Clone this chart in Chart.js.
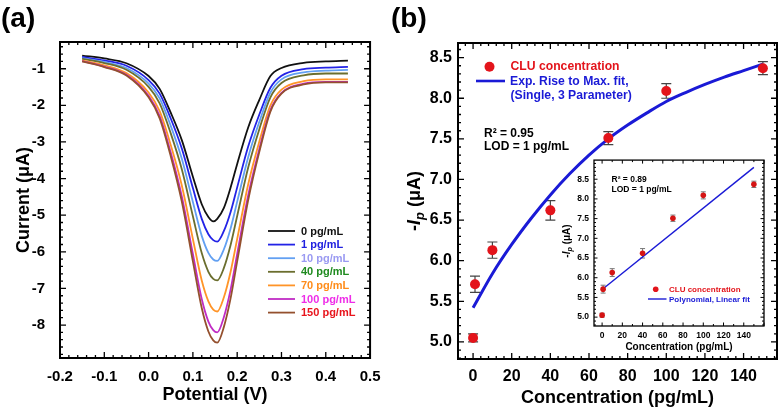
<!DOCTYPE html>
<html><head><meta charset="utf-8">
<script src="https://cdn.jsdelivr.net/npm/chart.js@4.4.1/dist/chart.umd.min.js"></script>
<style>
html,body{margin:0;padding:0;background:#fff;width:783px;height:420px;overflow:hidden;}
canvas{position:absolute;}
</style></head><body>
<canvas id="ca" style="left:0;top:0" width="390" height="420"></canvas>
<canvas id="cb" style="left:390px;top:0" width="393" height="420"></canvas>
<canvas id="ci" style="left:545px;top:150px" width="238" height="210"></canvas>
<script>
// ---------------- DATA ----------------
// Panel (a): DPV curves, current (uA) vs potential (V)
const potential = [-0.15,-0.1,-0.05,0,0.025,0.05,0.075,0.1,0.12,0.135,0.146,0.155,0.17,0.185,0.2,0.225,0.25,0.275,0.3,0.35,0.4,0.45];
const cur0   = [-0.64,-0.72,-0.85,-1.2,-1.55,-2.2,-2.95,-3.95,-4.7,-5.05,-5.17,-5.1,-4.8,-4.25,-3.6,-2.6,-1.85,-1.2,-0.98,-0.84,-0.8,-0.78];
const cur1   = [-0.68,-0.775,-0.92,-1.31,-1.68,-2.36,-3.18,-4.26,-5.10,-5.52,-5.68,-5.72,-5.43,-4.92,-4.24,-3.12,-2.25,-1.52,-1.19,-1.01,-0.97,-0.95];
const cur10  = [-0.71,-0.815,-0.98,-1.405,-1.81,-2.56,-3.46,-4.64,-5.565,-6.03,-6.21,-6.25,-5.93,-5.37,-4.63,-3.41,-2.45,-1.65,-1.29,-1.10,-1.05,-1.03];
const cur40  = [-0.73,-0.845,-1.03,-1.495,-1.945,-2.765,-3.745,-5.03,-6.035,-6.545,-6.74,-6.78,-6.44,-5.82,-5.02,-3.69,-2.65,-1.78,-1.39,-1.18,-1.13,-1.13];
const cur70  = [-0.77,-0.905,-1.12,-1.65,-2.16,-3.085,-4.19,-5.65,-6.785,-7.355,-7.58,-7.63,-7.24,-6.55,-5.65,-4.15,-2.99,-2.00,-1.57,-1.34,-1.29,-1.29];
const cur100 = [-0.79,-0.94,-1.165,-1.74,-2.29,-3.29,-4.49,-6.06,-7.29,-7.905,-8.14,-8.20,-7.78,-7.04,-6.06,-4.45,-3.19,-2.13,-1.66,-1.41,-1.36,-1.36];
const cur150 = [-0.80,-0.955,-1.185,-1.78,-2.355,-3.39,-4.63,-6.26,-7.535,-8.175,-8.42,-8.48,-8.05,-7.28,-6.26,-4.58,-3.27,-2.17,-1.68,-1.43,-1.37,-1.37];
const curveLabels = ['0 pg/mL','1 pg/mL','10 pg/mL','40 pg/mL','70 pg/mL','100 pg/mL','150 pg/mL'];
const potentialTicks = [-0.2,-0.1,0,0.1,0.2,0.3,0.4,0.5];
const currentTicks = [-8,-7,-6,-5,-4,-3,-2,-1];

// Panel (b): peak current vs concentration
const concentration = [0,1,10,40,70,100,150];
const peakCurrent = [5.05,5.71,6.13,6.62,7.51,8.09,8.37];
const peakError = [0.05,0.1,0.1,0.12,0.08,0.09,0.08];
const expFitX = [0,10,20,30,40,50,60,70,80,90,100,110,120,130,140,150];
const expFitY = [5.42,5.84,6.20,6.52,6.81,7.07,7.30,7.50,7.67,7.82,7.96,8.07,8.17,8.26,8.34,8.42];
const linFitX = [1,150];
const linFitY = [5.72,8.80];
const concTicks = [0,20,40,60,80,100,120,140];
const ipTicks = [5.0,5.5,6.0,6.5,7.0,7.5,8.0,8.5];

// ---------------- STYLE ----------------
const FAM = '"Liberation Sans", Arial, Helvetica, sans-serif';
const cf = (size, style) => (style ? style + ' ' : '') + 'bold ' + size + 'px ' + FAM;
const curveColors = ['#111111','#2323e6','#62a0f2','#6b6e2e','#ff9428','#c02cc4','#94502e'];
const legendTextColors = ['#111111','#2020e0','#9a9af2','#1f8a1f','#ff8c1a','#ee2ee8','#e8141c'];
const RED = '#e3141b', BLUE = '#1a1ad6';

// ---------------- PLUGINS ----------------
function marks(min, max, major, minor) {
  const out = [];
  const n0 = Math.ceil(min / minor - 1e-6), n1 = Math.floor(max / minor + 1e-6);
  for (let n = n0; n <= n1; n++) {
    const v = n * minor;
    const r = v / major;
    out.push({v, major: Math.abs(r - Math.round(r)) < 1e-6});
  }
  return out;
}
const framePlugin = {
  id: 'frame',
  beforeDraw(chart, args, o) {
    if (!o.bg) return;
    const a = chart.chartArea, ctx = chart.ctx;
    ctx.save(); ctx.fillStyle = o.bg;
    ctx.fillRect(a.left, a.top, a.right - a.left, a.bottom - a.top);
    ctx.restore();
  },
  afterDraw(chart, args, o) {
    const ctx = chart.ctx, a = chart.chartArea, xs = chart.scales.x, ys = chart.scales.y;
    ctx.save();
    ctx.strokeStyle = '#000';
    ctx.lineWidth = o.tickW;
    ctx.beginPath();
    marks(xs.min, xs.max, o.xMajor, o.xMinor).forEach(m => {
      const p = xs.getPixelForValue(m.v), L = m.major ? o.majLen : o.minLen;
      ctx.moveTo(p, a.bottom); ctx.lineTo(p, a.bottom - L);
      ctx.moveTo(p, a.top); ctx.lineTo(p, a.top + L);
    });
    marks(ys.min, ys.max, o.yMajor, o.yMinor).forEach(m => {
      const p = ys.getPixelForValue(m.v), L = m.major ? o.majLen : o.minLen;
      ctx.moveTo(a.left, p); ctx.lineTo(a.left + L, p);
      ctx.moveTo(a.right, p); ctx.lineTo(a.right - L, p);
    });
    ctx.stroke();
    ctx.lineWidth = o.lw;
    ctx.strokeRect(a.left, a.top, a.right - a.left, a.bottom - a.top);
    ctx.restore();
  }
};
const errPlugin = {
  id: 'errbars',
  beforeDatasetsDraw(chart, args, o) {
    if (!o.errors) return;
    const ctx = chart.ctx, xs = chart.scales.x, ys = chart.scales.y;
    const ds = chart.data.datasets[o.index];
    ctx.save(); ctx.strokeStyle = o.color; ctx.lineWidth = o.lw; ctx.beginPath();
    ds.data.forEach((pt, i) => {
      const e = o.errors[i];
      const px = xs.getPixelForValue(pt.x);
      const y1 = ys.getPixelForValue(pt.y + e), y2 = ys.getPixelForValue(pt.y - e);
      ctx.moveTo(px, y1); ctx.lineTo(px, y2);
      ctx.moveTo(px - o.cap, y1); ctx.lineTo(px + o.cap, y1);
      ctx.moveTo(px - o.cap, y2); ctx.lineTo(px + o.cap, y2);
    });
    ctx.stroke(); ctx.restore();
  }
};
function drawIp(ctx, cx, cy, size) {
  const parts = [
    ['-', cf(size), 0],
    ['I', cf(size, 'italic'), 0],
    ['p', cf(size * 0.72, 'italic'), size * 0.32],
    [' (\u03bcA)', cf(size), 0]
  ];
  let w = 0;
  parts.forEach(p => { ctx.font = p[1]; p.push(ctx.measureText(p[0]).width); w += p[3]; });
  ctx.save();
  ctx.translate(cx, cy); ctx.rotate(-Math.PI / 2);
  ctx.fillStyle = '#000'; ctx.textBaseline = 'middle'; ctx.textAlign = 'left';
  let x = -w / 2;
  parts.forEach(p => { ctx.font = p[1]; ctx.fillText(p[0], x, p[2]); x += p[3]; });
  ctx.restore();
}
const decoPlugin = {
  id: 'deco',
  afterDraw(chart, args, o) {
    const ctx = chart.ctx;
    (o.items || []).forEach(it => {
      ctx.save();
      if (it.kind === 'text') {
        ctx.font = it.font; ctx.fillStyle = it.color || '#000';
        ctx.textAlign = it.align || 'left'; ctx.textBaseline = it.baseline || 'middle';
        ctx.fillText(it.text, it.x, it.y);
      } else if (it.kind === 'line') {
        ctx.strokeStyle = it.color; ctx.lineWidth = it.width;
        ctx.beginPath(); ctx.moveTo(it.x1, it.y); ctx.lineTo(it.x2, it.y); ctx.stroke();
      } else if (it.kind === 'dot') {
        ctx.fillStyle = it.color; ctx.beginPath(); ctx.arc(it.x, it.y, it.r, 0, Math.PI * 2); ctx.fill();
      } else if (it.kind === 'ip') {
        drawIp(ctx, it.x, it.y, it.size);
      }
      ctx.restore();
    });
  }
};

function tickFont(size) { return {family: FAM, size: size, weight: 'bold'}; }
function fixedTicks(arr) { return s => { s.ticks = arr.map(v => ({value: v})); }; }
const noGrid = {display: false, drawTicks: false, tickLength: 0};
const baseOpts = {responsive: false, animation: false, devicePixelRatio: 1, events: []};

// ---------------- CHART (a) ----------------
const curves = [cur0, cur1, cur10, cur40, cur70, cur100, cur150];
const legendA = [];
curveLabels.forEach((lab, i) => {
  const y = 231 + i * 13.6;
  legendA.push({kind: 'line', x1: 268, x2: 295, y: y, color: curveColors[i], width: 1.8});
  legendA.push({kind: 'text', text: lab, x: 301, y: y + 0.5, font: cf(11), color: legendTextColors[i]});
});
legendA.push({kind: 'text', text: '(a)', x: 1, y: 27, baseline: 'alphabetic', font: cf(28), color: '#000'});

new Chart(document.getElementById('ca'), {
  type: 'line',
  data: {
    datasets: curves.map((c, i) => ({
      label: curveLabels[i],
      data: potential.map((p, j) => ({x: p, y: c[j]})),
      borderColor: curveColors[i], borderWidth: 1.8, pointRadius: 0,
      cubicInterpolationMode: 'monotone', fill: false
    })).reverse()
  },
  options: Object.assign({}, baseOpts, {
    layout: {padding: {top: 42, right: 13, left: 0, bottom: 0}},
    scales: {
      x: {type: 'linear', min: -0.2, max: 0.5,
        afterBuildTicks: fixedTicks(potentialTicks),
        afterFit: s => { s.height = 62; },
        grid: noGrid, border: {display: false},
        ticks: {font: tickFont(15), color: '#000', padding: 9.5, maxRotation: 0, autoSkip: false,
          callback: v => v.toFixed(1)},
        title: {display: true, text: 'Potential (V)', color: '#000',
          font: {family: FAM, size: 18, weight: 'bold'}, padding: {top: 0, bottom: 14}}
      },
      y: {type: 'linear', min: -8.9, max: -0.27,
        afterBuildTicks: fixedTicks(currentTicks),
        afterFit: s => { s.width = 60; },
        grid: noGrid, border: {display: false},
        ticks: {font: tickFont(15), color: '#000', padding: 15, autoSkip: false,
          callback: v => String(v)},
        title: {display: true, text: 'Current (\u03bcA)', color: '#000',
          font: {family: FAM, size: 18, weight: 'bold'}, padding: {top: 13, bottom: 0}}
      }
    },
    plugins: {
      legend: {display: false}, tooltip: {enabled: false},
      frame: {lw: 2, tickW: 1.3, majLen: 6, minLen: 3, xMajor: 0.1, xMinor: 0.02, yMajor: 1, yMinor: 0.2},
      deco: {items: legendA}
    }
  }),
  plugins: [framePlugin, decoPlugin]
});

// ---------------- CHART (b) ----------------
const decoB = [
  {kind: 'text', text: '(b)', x: 1, y: 27, baseline: 'alphabetic', font: cf(28), color: '#000'},
  {kind: 'dot', x: 99.5, y: 66.7, r: 5, color: RED},
  {kind: 'text', text: 'CLU concentration', x: 120.5, y: 67, font: cf(12.2), color: RED},
  {kind: 'line', x1: 86, x2: 115, y: 81, color: BLUE, width: 2.6},
  {kind: 'text', text: 'Exp. Rise to Max. fit,', x: 120, y: 81.5, font: cf(12.2), color: BLUE},
  {kind: 'text', text: '(Single, 3 Parameter)', x: 120.5, y: 96, font: cf(12.2), color: BLUE},
  {kind: 'text', text: 'R\u00b2 = 0.95', x: 94, y: 133.5, font: cf(12), color: '#000'},
  {kind: 'text', text: 'LOD = 1 pg/mL', x: 94, y: 147, font: cf(12), color: '#000'},
  {kind: 'ip', x: 25, y: 201, size: 18}
];
new Chart(document.getElementById('cb'), {
  type: 'scatter',
  data: {
    datasets: [
      {label: 'CLU concentration', data: concentration.map((c, i) => ({x: c, y: peakCurrent[i]})),
        backgroundColor: RED, borderColor: RED, pointRadius: 5, borderWidth: 0, showLine: false},
      {label: 'Exp. Rise to Max. fit', data: expFitX.map((c, i) => ({x: c, y: expFitY[i]})),
        borderColor: BLUE, borderWidth: 3, pointRadius: 0, showLine: true, cubicInterpolationMode: 'monotone'}
    ]
  },
  options: Object.assign({}, baseOpts, {
    layout: {padding: {top: 43, right: 6, left: 0, bottom: 0}},
    scales: {
      x: {type: 'linear', min: -7.8, max: 157.3,
        afterBuildTicks: fixedTicks(concTicks),
        afterFit: s => { s.height = 61; },
        grid: noGrid, border: {display: false},
        ticks: {font: tickFont(16), color: '#000', padding: 8, maxRotation: 0, autoSkip: false,
          callback: v => String(v)},
        title: {display: true, text: 'Concentration (pg/mL)', color: '#000',
          font: {family: FAM, size: 18, weight: 'bold'}, padding: {top: 0, bottom: 11}}
      },
      y: {type: 'linear', min: 4.79, max: 8.68,
        afterBuildTicks: fixedTicks(ipTicks),
        afterFit: s => { s.width = 68; },
        grid: noGrid, border: {display: false},
        ticks: {font: tickFont(16), color: '#000', padding: 6, autoSkip: false,
          callback: v => v.toFixed(1)}
      }
    },
    plugins: {
      legend: {display: false}, tooltip: {enabled: false},
      frame: {lw: 2, tickW: 1.3, majLen: 6, minLen: 3, xMajor: 20, xMinor: 4, yMajor: 0.5, yMinor: 0.1},
      errbars: {index: 0, errors: peakError, cap: 5, color: '#444', lw: 1.2},
      deco: {items: decoB}
    }
  }),
  plugins: [framePlugin, errPlugin, decoPlugin]
});

// ---------------- INSET ----------------
const decoI = [
  {kind: 'text', text: 'R\u00b2 = 0.89', x: 66.5, y: 30, font: cf(8.5), color: '#000'},
  {kind: 'text', text: 'LOD = 1 pg/mL', x: 66.5, y: 39.5, font: cf(8.5), color: '#000'},
  {kind: 'dot', x: 110.7, y: 139.3, r: 2.8, color: RED},
  {kind: 'text', text: 'CLU concentration', x: 124, y: 139.5, font: cf(8), color: RED},
  {kind: 'line', x1: 103, x2: 121.5, y: 149, color: BLUE, width: 1.4},
  {kind: 'text', text: 'Polynomial, Linear fit', x: 124, y: 149.5, font: cf(8), color: BLUE},
  {kind: 'ip', x: 22, y: 91, size: 10}
];
new Chart(document.getElementById('ci'), {
  type: 'scatter',
  data: {
    datasets: [
      {label: 'CLU concentration', data: concentration.map((c, i) => ({x: c, y: peakCurrent[i]})),
        backgroundColor: '#d41414', borderColor: '#d41414', pointRadius: 2.8, borderWidth: 0, showLine: false},
      {label: 'Polynomial, Linear fit', data: linFitX.map((c, i) => ({x: c, y: linFitY[i]})),
        borderColor: BLUE, borderWidth: 1.4, pointRadius: 0, showLine: true}
    ]
  },
  options: Object.assign({}, baseOpts, {
    layout: {padding: {top: 6, right: 19, left: 0, bottom: 0}},
    scales: {
      x: {type: 'linear', min: -8, max: 160,
        afterBuildTicks: fixedTicks(concTicks),
        afterFit: s => { s.height = 34; },
        grid: noGrid, border: {display: false},
        ticks: {font: tickFont(8.5), color: '#000', padding: 4.5, maxRotation: 0, autoSkip: false,
          callback: v => String(v)},
        title: {display: true, text: 'Concentration (pg/mL)', color: '#000',
          font: {family: FAM, size: 10, weight: 'bold'}, padding: {top: 0, bottom: 7}}
      },
      y: {type: 'linear', min: 4.775, max: 8.985,
        afterBuildTicks: fixedTicks(ipTicks),
        afterFit: s => { s.width = 49; },
        grid: noGrid, border: {display: false},
        ticks: {font: tickFont(8.5), color: '#000', padding: 5, autoSkip: false,
          callback: v => v.toFixed(1)}
      }
    },
    plugins: {
      legend: {display: false}, tooltip: {enabled: false},
      frame: {bg: '#ffffff', lw: 1.3, tickW: 1, majLen: 3.5, minLen: 2, xMajor: 20, xMinor: 10, yMajor: 0.5, yMinor: 0.1},
      errbars: {index: 0, errors: peakError, cap: 2.5, color: '#777', lw: 1},
      deco: {items: decoI}
    }
  }),
  plugins: [framePlugin, errPlugin, decoPlugin]
});
</script>
</body></html>
